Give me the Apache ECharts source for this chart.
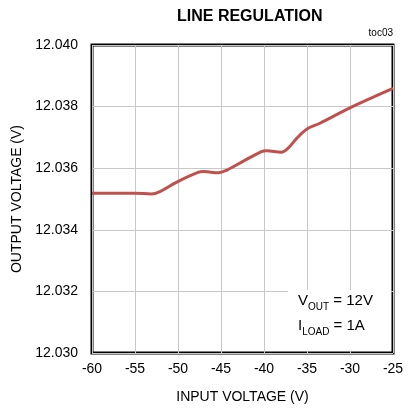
<!DOCTYPE html>
<html><head><meta charset="utf-8">
<script src="https://cdn.jsdelivr.net/npm/echarts@6/dist/echarts.min.js"></script>
<style>html,body{margin:0;padding:0;background:#fff}#c{width:410px;height:410px}</style>
</head><body><div id="c"></div>
<script>
const inputVoltage = [-60, -55, -53.1, -52.1, -50.2, -47.6, -47.0, -45.3, -44.3, -42.4, -40.3, -39.7, -38.0, -37.2, -36.2, -35.0, -33.5, -30.0, -25.0];
const outputVoltage = [12.03519, 12.03519, 12.03516, 12.03524, 12.03554, 12.03587, 12.03589, 12.03585, 12.03594, 12.03623, 12.03654, 12.03657, 12.03652, 12.03665, 12.03697, 12.03727, 12.03746, 12.03796, 12.03859];
const xTicks = [-60, -55, -50, -45, -40, -35, -30, -25];
const yTicks = ['12.030', '12.032', '12.034', '12.036', '12.038', '12.040'];

const FONT = "'Liberation Sans Narrow', 'Arial Narrow', 'Liberation Sans', Arial, sans-serif";
const chart = echarts.init(document.getElementById('c'));
chart.setOption({
  animation: false,
  title: {
    text: 'LINE REGULATION', left: 172, top: 4,
    textStyle: { fontFamily: FONT, fontWeight: 'bold', fontSize: 16, color: '#000' }
  },
  grid: { left: 92, right: 17, top: 45, bottom: 57, show: true, borderColor: '#000', borderWidth: 3, backgroundColor: 'transparent' },
  xAxis: {
    type: 'value', min: -60, max: -25, interval: 5,
    name: 'INPUT VOLTAGE (V)', nameLocation: 'middle', nameGap: 37,
    nameTextStyle: { fontFamily: FONT, fontSize: 14, color: '#000' },
    axisLine: { show: false }, axisTick: { show: false },
    axisLabel: { fontFamily: FONT, fontSize: 14, color: '#000', margin: 9,
      formatter: v => xTicks.includes(v) ? String(v) : '' },
    splitLine: { show: true, lineStyle: { color: '#c8c8c8', width: 1 } }
  },
  yAxis: {
    type: 'value', min: 12.030, max: 12.040, interval: 0.002,
    name: 'OUTPUT VOLTAGE (V)', nameLocation: 'middle', nameGap: 63,
    nameTextStyle: { fontFamily: FONT, fontSize: 14, color: '#000' },
    axisLine: { show: false }, axisTick: { show: false },
    axisLabel: { fontFamily: FONT, fontSize: 14, color: '#000', margin: 14,
      formatter: v => { const s = v.toFixed(3); return yTicks.includes(s) ? s : ''; } },
    splitLine: { show: true, lineStyle: { color: '#c8c8c8', width: 1 } }
  },
  graphic: [
    { type: 'rect', left: 288, top: 290, shape: { width: 103, height: 61 }, style: { fill: '#fff' }, z: 5 },
    { type: 'text', right: 17, top: 28, style: { text: 'toc03', fontFamily: FONT, fontSize: 10, fill: '#000' }, z: 6 },
    { type: 'text', left: 298, top: 293, z: 6, style: {
        text: '{m|V}{s|OUT}{m| = 12V}\n{m|I}{s|LOAD}{m| = 1A}',
        rich: {
          m: { fontFamily: FONT, fontSize: 15, fill: '#000', lineHeight: 25, verticalAlign: 'bottom' },
          s: { fontFamily: FONT, fontSize: 10, fill: '#000', lineHeight: 25, verticalAlign: 'bottom', padding: [0,0,-4,0] }
        } } }
  ],
  series: [{
    type: 'line', data: inputVoltage.map((x, i) => [x, outputVoltage[i]]),
    smooth: 0.35, showSymbol: false, symbol: 'none',
    lineStyle: { color: '#c0504d', width: 3 }, z: 3
  }]
});
</script></body></html>
